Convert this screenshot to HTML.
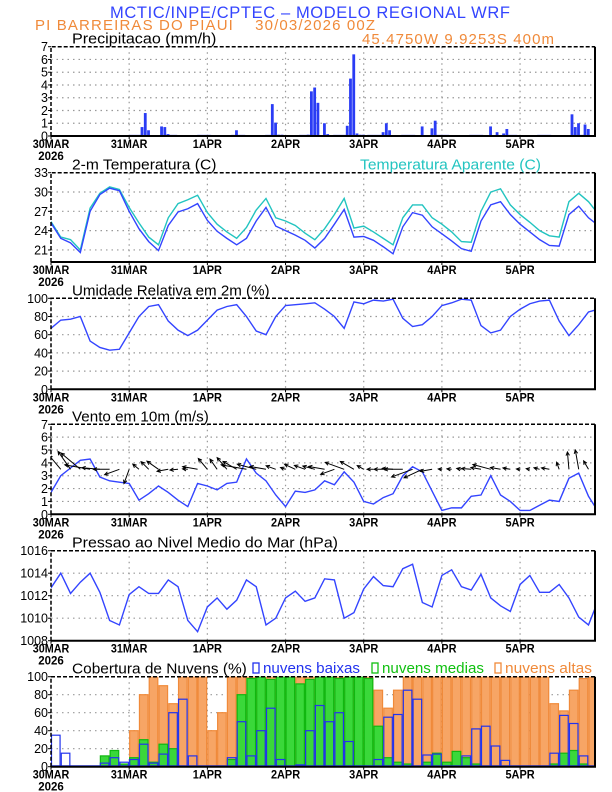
<!DOCTYPE html>
<html><head><meta charset="utf-8"><style>
html,body{margin:0;padding:0;background:#fff;}
svg{display:block;font-family:"Liberation Sans",sans-serif;}
</style></head><body>
<svg id="chart" width="612" height="792" viewBox="0 0 612 792" xmlns="http://www.w3.org/2000/svg">
<text x="110" y="18" font-size="16.5" fill="#3344ff" textLength="400">MCTIC/INPE/CPTEC – MODELO REGIONAL WRF</text>
<text x="35" y="30" font-size="15" fill="#f08a3a" textLength="340" xml:space="preserve">PI BARREIRAS DO PIAUI    30/03/2026 00Z</text>
<text x="362" y="44" font-size="15" fill="#f08a3a" textLength="192">45.4750W 9.9253S 400m</text>
</svg>
<script>
const dayLabels=["30MAR","31MAR","1APR","2APR","3APR","4APR","5APR"];
const precipHours=[28,29,30,34,35,36,57,68,69,70,71,79,80,81,82,84,85,91,92,93,94,95,96,102,103,104,114,117,118,135,137,139,140,160,161,162,164,165];
const precipVals=[0.7,1.8,0.45,0.75,0.7,0.15,0.45,2.5,1.05,0.1,0.1,0.1,3.5,3.8,2.6,1.0,0.15,0.8,4.5,6.4,0.2,0.1,0.1,0.3,1.0,0.45,0.75,0.6,1.2,0.75,0.3,0.2,0.55,1.7,0.7,1.0,0.9,0.55];
const tempVals=[25.2,22.8,22.1,20.6,27.0,29.6,30.6,30.2,27.0,24.3,22.3,20.9,24.8,26.9,27.4,28.2,25.6,23.9,22.8,21.8,22.8,25.5,27.6,24.7,24.0,23.3,22.5,21.3,22.8,25.0,27.3,23.0,23.1,22.5,21.5,20.4,24.6,26.8,26.4,24.6,23.5,22.4,21.2,20.8,25.5,28.0,28.5,26.5,25.0,23.8,22.6,21.7,21.6,26.5,27.8,26.0,24.8];
const appTempVals=[25.4,23.0,22.6,21.0,27.5,29.8,30.8,30.4,27.6,25.2,23.0,21.8,26.0,28.2,28.8,29.5,26.8,25.0,23.8,22.8,24.5,27.2,29.0,26.0,25.5,24.8,23.6,22.6,24.3,26.5,29.0,24.4,24.7,23.8,22.8,21.8,26.0,28.0,28.0,26.0,25.0,23.8,22.3,22.2,27.0,30.0,30.5,28.0,26.5,25.3,24.0,23.2,23.0,28.5,29.8,28.5,26.6];
const rhVals=[67,76,77,80,53,46,43,44,62,80,91,93,75,65,59,65,76,87,91,93,80,64,60,80,92,93,94,95,88,80,67,96,94,98,97,99,78,69,71,80,92,95,99,98,70,62,65,80,88,94,97,98,75,59,71,85,88];
const windVals=[1.7,3.0,3.6,4.2,4.3,2.9,2.6,2.5,2.4,1.1,1.6,2.2,1.7,1.1,0.6,2.4,2.2,1.9,2.4,2.5,4.3,3.2,2.6,1.5,0.6,1.8,1.7,1.9,2.6,2.3,3.3,2.5,1.0,0.8,1.3,1.6,3.0,3.7,3.3,1.8,0.3,0.5,0.5,1.4,1.5,3.0,1.5,1.0,0.3,0.3,0.7,1.1,1.0,2.8,3.2,1.4,0.2];
const windDirs=[135,130,125,140,170,175,180,200,250,140,135,145,190,185,175,170,130,125,130,150,170,165,170,160,160,155,160,165,170,200,160,150,150,180,180,175,180,200,205,190,175,175,170,175,170,165,170,170,175,170,165,170,110,95,100,120,170];
const pressVals=[1012.7,1014.0,1012.2,1013.2,1014.0,1012.3,1009.8,1009.4,1012.1,1012.8,1012.2,1012.2,1013.4,1012.8,1009.8,1008.8,1011.0,1011.8,1010.8,1011.6,1013.4,1012.8,1009.4,1010.0,1011.8,1012.4,1011.5,1011.8,1013.5,1013.4,1010.0,1010.5,1012.6,1013.7,1012.9,1012.8,1014.4,1014.8,1011.4,1011.0,1013.8,1014.3,1012.8,1012.5,1013.9,1011.8,1011.1,1010.6,1013.0,1013.8,1012.3,1012.3,1013.0,1011.8,1010.1,1009.4,1011.6];
const cloudLow=[35,15,0,0,0,4,10,5,8,25,4,14,60,75,12,0,0,0,10,50,12,40,65,8,0,2,40,68,50,60,28,0,0,8,55,58,85,75,13,14,0,0,12,42,45,23,7,0,0,0,0,15,57,48,12,0];
const cloudMid=[0,0,0,0,0,12,18,3,10,30,5,25,20,0,0,0,0,0,8,80,98,100,97,100,100,92,97,100,100,98,100,100,98,45,10,5,3,0,5,15,5,17,10,3,0,0,0,0,0,0,0,3,15,18,3,0];
const cloudHigh=[0,0,0,0,0,0,0,0,40,80,100,90,70,100,100,100,40,60,100,100,100,100,100,100,100,100,100,100,100,100,100,100,100,85,65,85,100,100,100,100,100,100,100,100,100,100,100,100,100,100,100,70,62,85,98,100];

const svg=document.getElementById('chart');
const NS='http://www.w3.org/2000/svg';
const X0=51,X1=595,HMAX=167;
function x(h){return X0+h*(X1-X0)/HMAX;}
function mk(tag,attrs,parent){const e=document.createElementNS(NS,tag);for(const k in attrs)e.setAttribute(k,attrs[k]);(parent||svg).appendChild(e);return e;}

function panel(id,top,bot,vmin,vmax,ticks,title){
  const g=mk('g',{});
  
  
  const y=v=>bot-(v-vmin)*(bot-top)/(vmax-vmin);
  const cid='clip-'+id;
  const cp=mk('clipPath',{id:cid},g);
  mk('rect',{x:X0,y:top,width:X1-X0,height:bot-top},cp);
  for(let d=1;d<7;d++){
    const l=mk('line',{x1:x(24*d),x2:x(24*d),y1:top,y2:bot,stroke:'#999','stroke-width':1.2,'stroke-dasharray':'1.5,4'},g);
    
    
  }
  ticks.forEach(t=>{
    if(t>vmin&&t<vmax){
      const l=mk('line',{x1:X0,x2:X1,y1:y(t),y2:y(t),stroke:'#999','stroke-width':1.2,'stroke-dasharray':'1.5,4'},g);
      
      
    }
    const tk=mk('line',{x1:X0-3,x2:X0,y1:y(t),y2:y(t),stroke:'#000','stroke-width':1},g);
    
    
    const tx=mk('text',{x:X0-3,y:y(t)+4.5,'font-size':12.5,'text-anchor':'end',fill:'#000'},g);
    tx.textContent=String(t);
    
    
  });
  dayLabels.forEach((lab,i)=>{
    const tx=mk('text',{x:x(24*i),y:bot+12,'font-size':11.5,'font-weight':'bold','text-anchor':'middle',fill:'#000',textLength:lab.length*7.3,lengthAdjust:'spacingAndGlyphs'},g);
    tx.textContent=lab;
    
    
    const tk=mk('line',{x1:x(24*i),x2:x(24*i),y1:bot,y2:bot+3,stroke:'#000'},g);
    
    
  });
  const yr=mk('text',{x:x(0),y:bot+24,'font-size':11.5,'font-weight':'bold','text-anchor':'middle',fill:'#000'},g);
  yr.textContent='2026';
  
  
  const tt=mk('text',{x:72,y:top-3,'font-size':15,fill:'#000',textLength:title.length*7.6,lengthAdjust:'spacingAndGlyphs'},g);
  tt.textContent=title;
  
  
  const plot=mk('g',{'clip-path':'url(#'+cid+')'},g);
  
  
  return {g,plot,y,top,bot};
}
function frame(p){
  const a=mk('path',{d:`M${X0},${p.bot} L${X0},${p.top} L${X1},${p.top}`,fill:'none',stroke:'#000','stroke-width':1.5,'stroke-dasharray':'4,2'},p.g);
  
  
  const b=mk('path',{d:`M${X1},${p.top} L${X1},${p.bot} L${X0},${p.bot}`,fill:'none',stroke:'#000','stroke-width':2},p.g);
  
  
}
function line(p,vals,color,name){
  const d=vals.map((v,i)=>(i?'L':'M')+x(i*3).toFixed(2)+','+p.y(v).toFixed(2)).join(' ');
  const e=mk('path',{d,fill:'none',stroke:color,'stroke-width':1.4},p.plot);
  
  
}

// Precipitation
const p1=panel('precip',46.7,136,0,7,[0,1,2,3,4,5,6,7],'Precipitacao (mm/h)');
precipHours.forEach((h,i)=>{
  const r=mk('rect',{x:x(h)-1.6,y:p1.y(precipVals[i]),width:2.8,height:p1.bot-p1.y(precipVals[i]),fill:'#2a3cf5'},p1.plot);
  
  
});
const pb=mk('line',{x1:x(24),x2:x(167),y1:135.5,y2:135.5,stroke:'#2a3cf5','stroke-width':1.2,'stroke-dasharray':'14,20'},p1.plot);


frame(p1);

// Temperature
const p2=panel('temperature',172.7,262,19.13,33,[21,24,27,30,33],'2-m Temperatura (C)');
line(p2,appTempVals,'#22c4c0','apparent-temp-line');
line(p2,tempVals,'#3344ff','temp-line');
frame(p2);
const at=mk('text',{x:360,y:169.5,'font-size':15,fill:'#22c4c0',textLength:181,lengthAdjust:'spacingAndGlyphs'});
at.textContent='Temperatura Aparente (C)';



// Humidity
const p3=panel('humidity',298.3,389.3,0,100,[0,20,40,60,80,100],'Umidade Relativa em 2m (%)');
line(p3,rhVals,'#3344ff','humidity-line');
frame(p3);

// Wind
const p4=panel('wind',424.3,514.3,0,7,[0,1,2,3,4,5,6,7],'Vento em 10m (m/s)');
line(p4,windVals,'#3344ff','wind-speed-line');
windVals.forEach((s,i)=>{
  const a=windDirs[i]*Math.PI/180, L=s*5.5+2;
  const x0=x(i*3), y0=p4.y(3.5);
  const x1=x0+L*Math.cos(a), y1=y0-L*Math.sin(a);
  const hx1=x1-4*Math.cos(a-0.45), hy1=y1+4*Math.sin(a-0.45);
  const hx2=x1-4*Math.cos(a+0.45), hy2=y1+4*Math.sin(a+0.45);
  const e=mk('path',{d:`M${x0},${y0} L${x1},${y1} M${hx1},${hy1} L${x1},${y1} L${hx2},${hy2}`,fill:'none',stroke:'#000','stroke-width':1},p4.plot);
  
  
});
frame(p4);

// Pressure
const p5=panel('pressure',550.7,640.7,1008,1016,[1008,1010,1012,1014,1016],'Pressao ao Nivel Medio do Mar (hPa)');
line(p5,pressVals,'#3344ff','pressure-line');
frame(p5);

// Clouds
const p6=panel('clouds',676.7,766.7,0,100,[0,20,40,60,80,100],'Cobertura de Nuvens (%)');
function cbars(vals,fill,stroke,name){
  vals.forEach((v,i)=>{
    if(v<=0)return;
    const r=mk('rect',{x:x(i*3)+0.5,y:p6.y(v),width:x(3)-X0-1.2,height:p6.bot-p6.y(v),fill,stroke,'stroke-width':1.2},p6.plot);
    
    
  });
}
cbars(cloudHigh,'#f7a565','#f08a3a','cloud-high-bar');
cbars(cloudMid,'#3ad83a','#10b810','cloud-mid-bar');
cbars(cloudLow,'none','#2233ee','cloud-low-bar');
const cb=mk('line',{x1:X0,x2:X1,y1:766,y2:766,stroke:'#2233ee','stroke-width':1.5},p6.plot);


frame(p6);
const legend=[['nuvens baixas','#2233ee',253,97],['nuvens medias','#10c010',372,102],['nuvens altas','#f08a3a',495,87]];
legend.forEach(([lab,c,lx,w])=>{
  const b=mk('rect',{x:lx,y:663,width:6,height:10,fill:'none',stroke:c,'stroke-width':1.3});
  
  
  const t=mk('text',{x:lx+10,y:673,'font-size':15,fill:c,textLength:w,lengthAdjust:'spacingAndGlyphs'});
  t.textContent=lab;
  
  
});
</script>
</body></html>
